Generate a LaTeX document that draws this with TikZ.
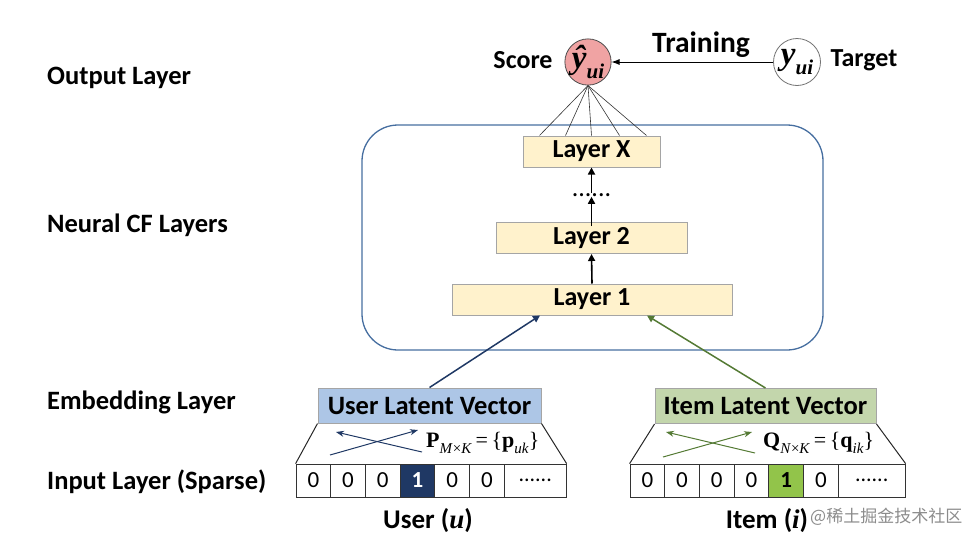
\documentclass[tikz,border=0pt]{standalone}
\usepackage{fontspec}
\setmainfont{Carlito}
\newfontfamily\tms{Liberation Serif}
\newfontfamily\cjk{Noto Sans CJK SC}
\usetikzlibrary{arrows.meta}
\definecolor{layfill}{RGB}{255,242,204}
\definecolor{laydraw}{RGB}{165,165,165}
\definecolor{ublue}{RGB}{173,198,230}
\definecolor{ugreen}{RGB}{195,214,172}
\definecolor{navy}{RGB}{31,56,100}
\definecolor{dgreen}{RGB}{84,122,52}
\definecolor{cgreen}{RGB}{146,196,74}
\definecolor{spink}{RGB}{240,163,163}
\definecolor{frame}{RGB}{70,110,160}
\begin{document}
\begin{tikzpicture}[x=1pt,y=-1pt,
  lbl/.style={font=\fontsize{26.5}{28}\selectfont\bfseries, anchor=west, inner sep=0pt},
  btxt/.style={font=\fontsize{26}{28}\selectfont\bfseries, inner sep=0pt},
  layerbox/.style={draw=laydraw, fill=layfill, line width=1pt, font=\fontsize{26}{28}\selectfont\bfseries, inner sep=0pt, minimum height=31pt},
  lvbox/.style={draw=laydraw, line width=1pt, font=\fontsize{26.5}{28}\selectfont\bfseries, inner sep=0pt, minimum height=35pt, minimum width=223pt},
  cell/.style={draw=black!80, line width=0.8pt, inner sep=0pt, minimum height=33pt, minimum width=34.7pt, font=\fontsize{23}{24}\selectfont},
  dotcell/.style={cell, font=\fontsize{22}{24}\selectfont},
  uparrow/.style={line width=1.6pt, -{Triangle[length=7pt,width=7pt]}},
  thinarrow/.style={line width=1pt, -{Stealth[length=8pt,width=6pt]}}
]
\useasboundingbox (0,0) rectangle (968,544);

% left labels
\node[lbl] (lout) at (47,78) {Output Layer};
\node[lbl] (lncf) at (47,225) {Neural CF Layers};
\node[lbl] (lemb) at (47,402) {Embedding Layer};
\node[lbl] (linp) at (47,482) {Input Layer (Sparse)};

% neural CF frame
\node[draw=frame, line width=1.3pt, rounded corners=36pt, minimum width=461pt, minimum height=225pt] (ncf) at (592.5,237.5) {};

% layers
\node[layerbox, minimum width=137pt] (lx) at (591.5,151.5) {Layer X};
\node[layerbox, minimum width=191pt] (l2) at (591.5,238) {Layer 2};
\node[layerbox, minimum width=280pt] (l1) at (592,299.5) {Layer 1};
\node[inner sep=0pt, font=\fontsize{26}{26}\selectfont] (dots) at (591.5,195) {......};

\draw[uparrow] (l1.north) -- (l2.south);
\draw[uparrow] ([yshift=-4pt]l2.north) -- (dots.south);
\draw[uparrow] (dots.north) -- (lx.south);

% output
\node[circle, draw=black!70, fill=spink, line width=0.8pt, minimum size=46pt, inner sep=0pt] (score) at (588,62)
  {\tms\bfseries\itshape\fontsize{33}{33}\selectfont ŷ\raisebox{-0.3em}{\fontsize{21}{21}\selectfont ui}};
\node[circle, draw=black!55, fill=white, line width=0.8pt, minimum size=47pt, inner sep=0pt] (target) at (797,62)
  {\tms\bfseries\itshape\fontsize{33}{33}\selectfont y\raisebox{-0.3em}{\fontsize{21}{21}\selectfont ui}};
\node[btxt] (scoret) at (523,60) {Score};
\node[btxt, font=\fontsize{29.5}{30}\selectfont\bfseries] (traint) at (701,45) {Training};
\node[btxt] (targett) at (864,60) {Target};
\draw[line width=0.9pt, -{Latex[length=8pt,width=6pt]}] (target.west) -- (score.east);

\foreach \dx in {17,43,69,97,124}
  \draw[line width=0.6pt, black!80] (score.south) -- ([xshift=\dx pt]lx.north west);

% latent vectors
\node[lvbox, fill=ublue] (ulv) at (429.5,405.5) {User Latent Vector};
\node[lvbox, fill=ugreen, minimum width=221pt] (ilv) at (765.5,406) {Item Latent Vector};

\draw[uparrow, navy, line width=1.5pt] (ulv.north) -- ([xshift=-52pt]l1.south);
\draw[uparrow, dgreen, line width=1.5pt] (ilv.north) -- ([xshift=55pt]l1.south);

% user input row
\foreach \k/\v in {1/0,2/0,3/0,5/0,6/0}
  \node[cell] (u\k) at ({296+34.7*(\k-0.5)},480.5) {\v};
\node[cell, fill=navy, text=white, font=\fontsize{23}{24}\selectfont\bfseries] (u4) at ({296+34.7*3.5},480.5) {1};
\node[dotcell, minimum width=62pt] (u7) at (535.2,480.5) {......};

% item input row
\foreach \k/\v in {1/0,2/0,3/0,4/0,6/0}
  \node[cell] (i\k) at ({630+34.7*(\k-0.5)},480.5) {\v};
\node[cell, fill=cgreen, font=\fontsize{23}{24}\selectfont\bfseries] (i5) at ({630+34.7*4.5},480.5) {1};
\node[dotcell, minimum width=67pt] (i7) at (871.7,480.5) {......};

% trapezoid sides
\draw[line width=1pt, black!85] (ulv.south west) -- (u1.north west);
\draw[line width=1pt, black!85] (ulv.south east) -- (u7.north east);
\draw[line width=1pt, black!85] (ilv.south west) -- (i1.north west);
\draw[line width=1pt, black!85] (ilv.south east) -- (i7.north east);

% crossed arrows
\coordinate (ua1) at (330,455); \coordinate (ua2) at (418,430);
\coordinate (ub1) at (422,452); \coordinate (ub2) at (336,432);
\draw[thinarrow, navy] (ua1) -- (ua2);
\draw[thinarrow, navy] (ub1) -- (ub2);
\coordinate (ia1) at (663,457); \coordinate (ia2) at (752,432);
\coordinate (ib1) at (755,453); \coordinate (ib2) at (666,432);
\draw[thinarrow, dgreen] (ia1) -- (ia2);
\draw[thinarrow, dgreen] (ib1) -- (ib2);

% matrices
\node[inner sep=0pt, anchor=west] (pm) at (426,443)
  {\tms\fontsize{22}{22}\selectfont\textbf{P}\raisebox{-0.3em}{\fontsize{15}{15}\selectfont\textit{M}×\textit{K}}\,=\,\{\textbf{p}\raisebox{-0.3em}{\fontsize{15}{15}\selectfont\textit{uk}}\}};
\node[inner sep=0pt, anchor=west] (qm) at (763,443)
  {\tms\fontsize{22}{22}\selectfont\textbf{Q}\raisebox{-0.3em}{\fontsize{15}{15}\selectfont\textit{N}×\textit{K}}\,=\,\{\textbf{q}\raisebox{-0.3em}{\fontsize{15}{15}\selectfont\textit{ik}}\}};

% captions
\node[btxt, font=\fontsize{27}{28}\selectfont\bfseries] (ucap) at (428,521) {User ({\tms\itshape u})};
\node[btxt, font=\fontsize{27}{28}\selectfont\bfseries] (icap) at (767,521) {Item ({\tms\itshape i})};
\node[inner sep=0pt, anchor=west, text=black!45, font=\fontsize{17}{20}\selectfont] (wm) at (810,517) {\cjk @稀土掘金技术社区};
\end{tikzpicture}
\end{document}
